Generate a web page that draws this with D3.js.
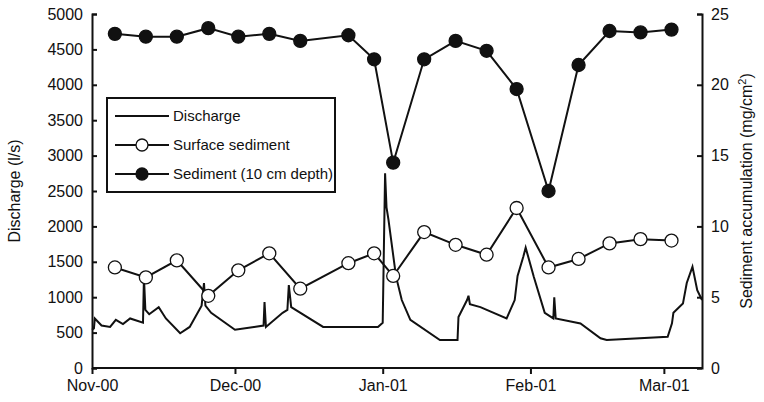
<!DOCTYPE html>
<html>
<head>
<meta charset="UTF-8">
<style>body{margin:0;background:#fff}text{font-family:Arial,"Liberation Sans",sans-serif}</style>
</head>
<body>
<svg id="chart" width="764" height="402"></svg>
<script src="https://d3js.org/d3.v7.min.js"></script>
<script>
// days since 1 Nov 2000
const tickDays = [0, 30, 61, 92, 120];
const tickLabels = ["Nov-00", "Dec-00", "Jan-01", "Feb-01", "Mar-01"];

const dischargeDay = [0,0.4,0.6,2,3.8,5,6.5,8,10.7,10.9,11.2,12,14,15.5,18.5,20.5,23,23.5,23.8,25,30,34,36,36.2,36.5,40,41,41.3,41.8,48.5,60,61,61.5,61.8,62.2,63.8,65,66.8,73,76.7,76.9,78.7,79,79.3,81.5,87,88.7,89.3,90.5,91,92.7,95,96.8,97,97.3,102.5,106.7,108,120.8,121.7,122,124,124.8,126,127,128];
const dischargeVal = [540,560,700,600,580,680,620,700,640,1285,820,760,860,700,490,580,880,1200,880,780,540,580,600,930,580,780,820,1170,860,580,580,640,2750,2270,2100,1290,960,680,395,395,720,960,1020,900,860,700,960,1300,1570,1700,1290,780,700,1000,700,630,420,395,440,630,780,910,1200,1430,1100,960];

const sampleDay = [4.8,11.3,17.8,24.4,30.7,37.2,43.7,53.8,59.2,63.2,69.7,76.3,82.8,89.1,95.8,102.1,108.6,115.1,121.6];
const surfaceVal = [7.1,6.4,7.6,5.1,6.9,8.1,5.6,7.4,8.1,6.5,9.6,8.7,8.0,11.3,7.1,7.7,8.8,9.1,9.0];
const depthVal = [23.6,23.4,23.4,24.0,23.4,23.6,23.1,23.5,21.8,14.5,21.8,23.1,22.4,19.7,12.5,21.4,23.8,23.7,23.9];

const svg = d3.select("#chart");
const m = {l: 92, r: 62, t: 14, b: 34};
const W = 764, H = 402;
const x = d3.scaleLinear().domain([0, 128]).range([m.l, W - m.r]);
const yL = d3.scaleLinear().domain([0, 5000]).range([H - m.b, m.t]);
const yR = d3.scaleLinear().domain([0, 25]).range([H - m.b, m.t]);

// discharge step-ish line
svg.append("path")
  .datum(dischargeDay.map((d, i) => [d, dischargeVal[i]]))
  .attr("fill", "none").attr("stroke", "#111").attr("stroke-width", 2)
  .attr("d", d3.line().x(d => x(d[0])).y(d => yL(d[1])));

function series(vals, fill) {
  const pts = sampleDay.map((d, i) => [d, vals[i]]);
  svg.append("path").datum(pts)
    .attr("fill", "none").attr("stroke", "#111").attr("stroke-width", 2)
    .attr("d", d3.line().x(d => x(d[0])).y(d => yR(d[1])));
  svg.append("g").selectAll("circle").data(pts).join("circle")
    .attr("cx", d => x(d[0])).attr("cy", d => yR(d[1])).attr("r", 6.5)
    .attr("fill", fill).attr("stroke", "#111").attr("stroke-width", 1.3);
}
series(surfaceVal, "#fff");
series(depthVal, "#111");

// axes
const axL = svg.append("g").attr("transform", `translate(${m.l},0)`)
  .call(d3.axisLeft(yL).tickValues(d3.range(0, 5001, 500)).tickSize(-5).tickPadding(9).tickFormat(d3.format("d")));
const axR = svg.append("g").attr("transform", `translate(${W - m.r},0)`)
  .call(d3.axisRight(yR).tickValues(d3.range(0, 26, 5)).tickSize(-5).tickPadding(9));
const axB = svg.append("g").attr("transform", `translate(0,${H - m.b})`)
  .call(d3.axisBottom(x).tickValues(tickDays).tickSize(6).tickPadding(6).tickFormat((d, i) => tickLabels[i]));
[axL, axR, axB].forEach(a => {
  a.selectAll("path,line").attr("stroke", "#111").attr("stroke-width", 2);
  a.selectAll("text").attr("font-size", 16).attr("fill", "#111");
});
axB.select(".domain").attr("d", `M${m.l},0H${W - m.r}`);

svg.append("text").attr("transform", `translate(20,${(m.t + H - m.b) / 2}) rotate(-90)`)
  .attr("text-anchor", "middle").attr("font-size", 16).attr("fill", "#111").text("Discharge (l/s)");
const rl = svg.append("text").attr("transform", `translate(752,${(m.t + H - m.b) / 2}) rotate(-90)`)
  .attr("text-anchor", "middle").attr("font-size", 16).attr("fill", "#111");
rl.append("tspan").text("Sediment accumulation (mg/cm");
rl.append("tspan").attr("font-size", 11).attr("dy", -6).text("2");
rl.append("tspan").attr("dy", 6).text(")");

// legend
const lg = svg.append("g").attr("transform", "translate(107,98)");
lg.append("rect").attr("width", 228).attr("height", 94).attr("fill", "#fff").attr("stroke", "#111").attr("stroke-width", 2);
const items = [["Discharge", null], ["Surface sediment", "#fff"], ["Sediment (10 cm depth)", "#111"]];
items.forEach((it, i) => {
  const yy = 18 + i * 29;
  lg.append("line").attr("x1", 8).attr("x2", 62).attr("y1", yy).attr("y2", yy).attr("stroke", "#111").attr("stroke-width", 2);
  if (it[1]) lg.append("circle").attr("cx", 35).attr("cy", yy).attr("r", 6).attr("fill", it[1]).attr("stroke", "#111").attr("stroke-width", 1.3);
  lg.append("text").attr("x", 66).attr("y", yy + 5).attr("font-size", 15).attr("fill", "#111").text(it[0]);
});
</script>
</body>
</html>
